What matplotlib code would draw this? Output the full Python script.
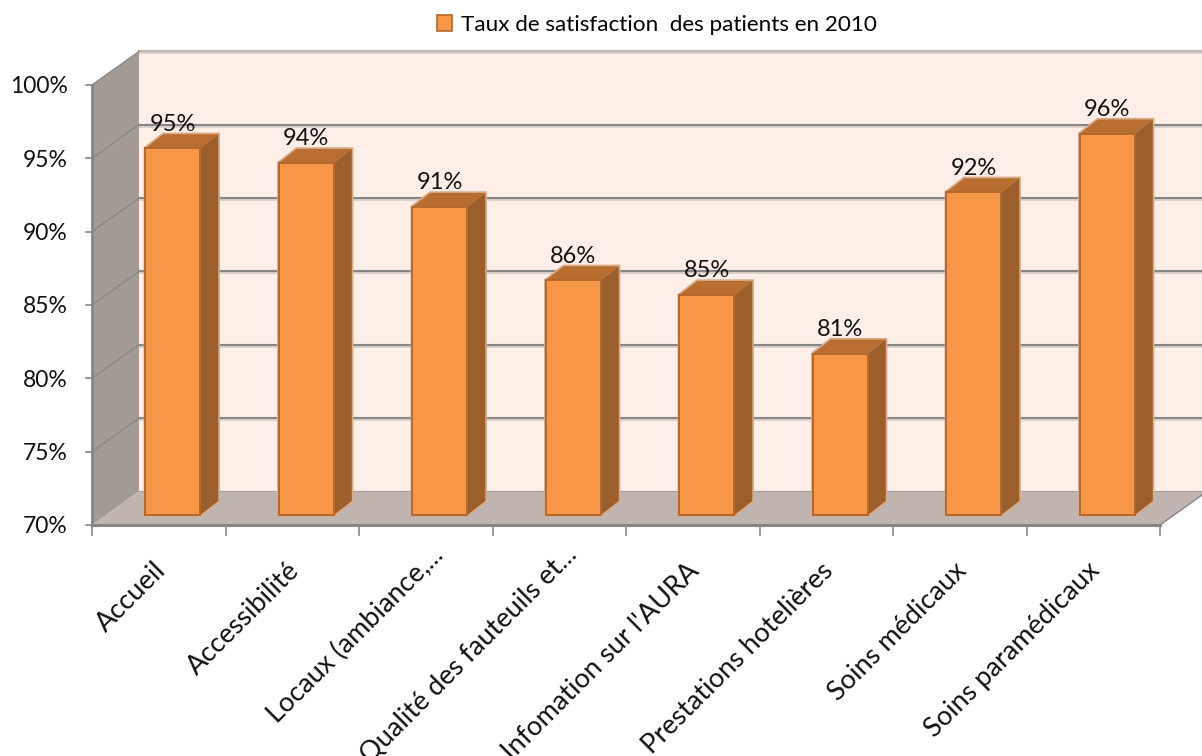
import matplotlib

matplotlib.use("Agg")
import matplotlib.pyplot as plt  # noqa: E402
from matplotlib.patches import Polygon, Rectangle  # noqa: E402

OUT = "out.png"

CATEGORIES = ["Accueil", "Accessibilité", "Locaux (ambiance,...", "Qualité des fauteuils et...",
              "Infomation sur l'AURA", "Prestations hotelières", "Soins médicaux",
              "Soins paramédicaux"]
VALUES = [95, 94, 91, 86, 85, 81, 92, 96]
LABELS = ["95%", "94%", "91%", "86%", "85%", "81%", "92%", "96%"]
Y_TICKS = [70, 75, 80, 85, 90, 95, 100]
Y_TICK_LABELS = ["70%", "75%", "80%", "85%", "90%", "95%", "100%"]
SERIES_NAME = "Taux de satisfaction  des patients en 2010"

# one category = 133.5 px, one percent = 14.67 px on the front plane
XU, YU = 133.5, 14.67
WALL_DX, WALL_DY = 47 / XU, 33.5 / YU       # depth of the whole chart box
BAR_DX, BAR_DY = 18 / XU, 14 / YU           # depth of a column
BAR_SHIFT_X, BAR_SHIFT_Y = 14 / XU, 10 / YU  # columns sit inside the box
BAR_W = 55 / XU
N = len(CATEGORIES)

FONT = ["Lato", "DejaVu Sans"]
GRID = "#868686"
FACE, TOP, SIDE, EDGE = "#f79646", "#b86d31", "#9c5f2b", "#b4682c"


def main():
    fig = plt.figure(figsize=(12.02, 7.56), dpi=100)
    ax = fig.add_axes([0, 0, 1, 1])
    ax.set_xlim(-92 / XU, (1202 - 92) / XU)
    ax.set_ylim(70 - (756 - 525) / YU, 70 + 525 / YU)
    ax.axis("off")

    y0, y1 = Y_TICKS[0], Y_TICKS[-1]

    # back wall, side wall, floor
    ax.add_patch(Polygon([(WALL_DX, y0 + WALL_DY), (N + WALL_DX, y0 + WALL_DY),
                          (N + WALL_DX, y1 + WALL_DY), (WALL_DX, y1 + WALL_DY)],
                         fc="#fdeee7", ec="none", zorder=1))
    ax.add_patch(Polygon([(0, y0), (WALL_DX, y0 + WALL_DY), (WALL_DX, y1 + WALL_DY), (0, y1)],
                         fc="#a39a94", ec="none", zorder=2))
    ax.add_patch(Polygon([(0, y0), (N, y0), (N + WALL_DX, y0 + WALL_DY), (WALL_DX, y0 + WALL_DY)],
                         fc="#bfb4af", ec="none", zorder=2))

    # gridlines
    for t in Y_TICKS:
        ax.plot([WALL_DX, N + WALL_DX], [t + WALL_DY - 0.07] * 2, color="#d8cfca", lw=2,
                zorder=1.5)
        ax.plot([WALL_DX, N + WALL_DX], [t + WALL_DY] * 2, color=GRID if t < y1 else "#c0b8b4",
                lw=1.5, zorder=1.6)
        if t > y0:
            ax.plot([0, WALL_DX], [t, t + WALL_DY], color=GRID, lw=0.9, zorder=3)
        ax.plot([-6 / XU, 0], [t, t], color=GRID, lw=1.2, zorder=4)
        ax.text(-24 / XU, t - 2 / YU, Y_TICK_LABELS[Y_TICKS.index(t)], ha="right", va="center",
                fontsize=16.5, family=FONT, color="#111111")

    # axes lines and category ticks
    ax.plot([0, 0], [y0, y1], color=GRID, lw=2, zorder=4)
    ax.plot([0, N], [y0, y0], color=GRID, lw=2.2, zorder=4)
    ax.plot([N, N + WALL_DX], [y0, y0 + WALL_DY], color=GRID, lw=1, zorder=2.5)
    for i in range(N + 1):
        ax.plot([i, i], [y0, y0 - 10 / YU], color=GRID, lw=1.2, zorder=4)

    # columns: front face through ax.bar, top and side as polygons behind it
    xs = [i + 0.5 + BAR_SHIFT_X for i in range(N)]
    bottom = y0 + BAR_SHIFT_Y
    heights = [v - y0 for v in VALUES]
    ax.bar(xs, heights, width=BAR_W, bottom=bottom, color=FACE, edgecolor=EDGE,
           linewidth=1.4, zorder=6, label=SERIES_NAME)
    for x, v in zip(xs, VALUES):
        xl, xr = x - BAR_W / 2, x + BAR_W / 2
        top = v + BAR_SHIFT_Y
        ax.add_patch(Polygon([(xl, bottom), (xr, bottom), (xr + BAR_DX, bottom + BAR_DY),
                              (xr + BAR_DX, top + BAR_DY), (xl + BAR_DX, top + BAR_DY), (xl, top)],
                             fc="#d9ab86", ec="#d9ab86", lw=2.4, zorder=4.5))
        ax.add_patch(Polygon([(xr, bottom), (xr + BAR_DX, bottom + BAR_DY),
                              (xr + BAR_DX, top + BAR_DY), (xr, top)],
                             fc=SIDE, ec="none", zorder=5))
        ax.add_patch(Polygon([(xl, top), (xr, top), (xr + BAR_DX, top + BAR_DY),
                              (xl + BAR_DX, top + BAR_DY)],
                             fc=TOP, ec="none", zorder=5))

    # data labels
    for x, v, lab in zip(xs, VALUES, LABELS):
        ax.text(x, v + BAR_SHIFT_Y + 24 / YU, lab, ha="center", va="center", fontsize=17,
                family=FONT, color="#111111", zorder=7)

    # category labels, cut off by the bottom of the picture as in the original
    for i, name in enumerate(CATEGORIES):
        # truncated labels reach further up in the original
        dx, dy = (5, 17) if name.endswith("...") else (-6, 33)
        ax.text(i + 0.5 + dx / XU, y0 - dy / YU, name, rotation=45, rotation_mode="anchor",
                ha="right", va="top", fontsize=19.5, family=FONT, color="#111111", clip_on=False)

    # legend
    handle = Rectangle((0, 0), 1, 1, fc=FACE, ec=EDGE, lw=1.2)
    fig.legend([handle], [SERIES_NAME], loc="center", bbox_to_anchor=(657 / 1202, 1 - 25 / 756),
               frameon=False, handlelength=0.7, handleheight=0.7, handletextpad=0.4,
               prop={"family": FONT, "size": 16.2})

    fig.savefig(OUT, dpi=100)


if __name__ == "__main__":
    main()
